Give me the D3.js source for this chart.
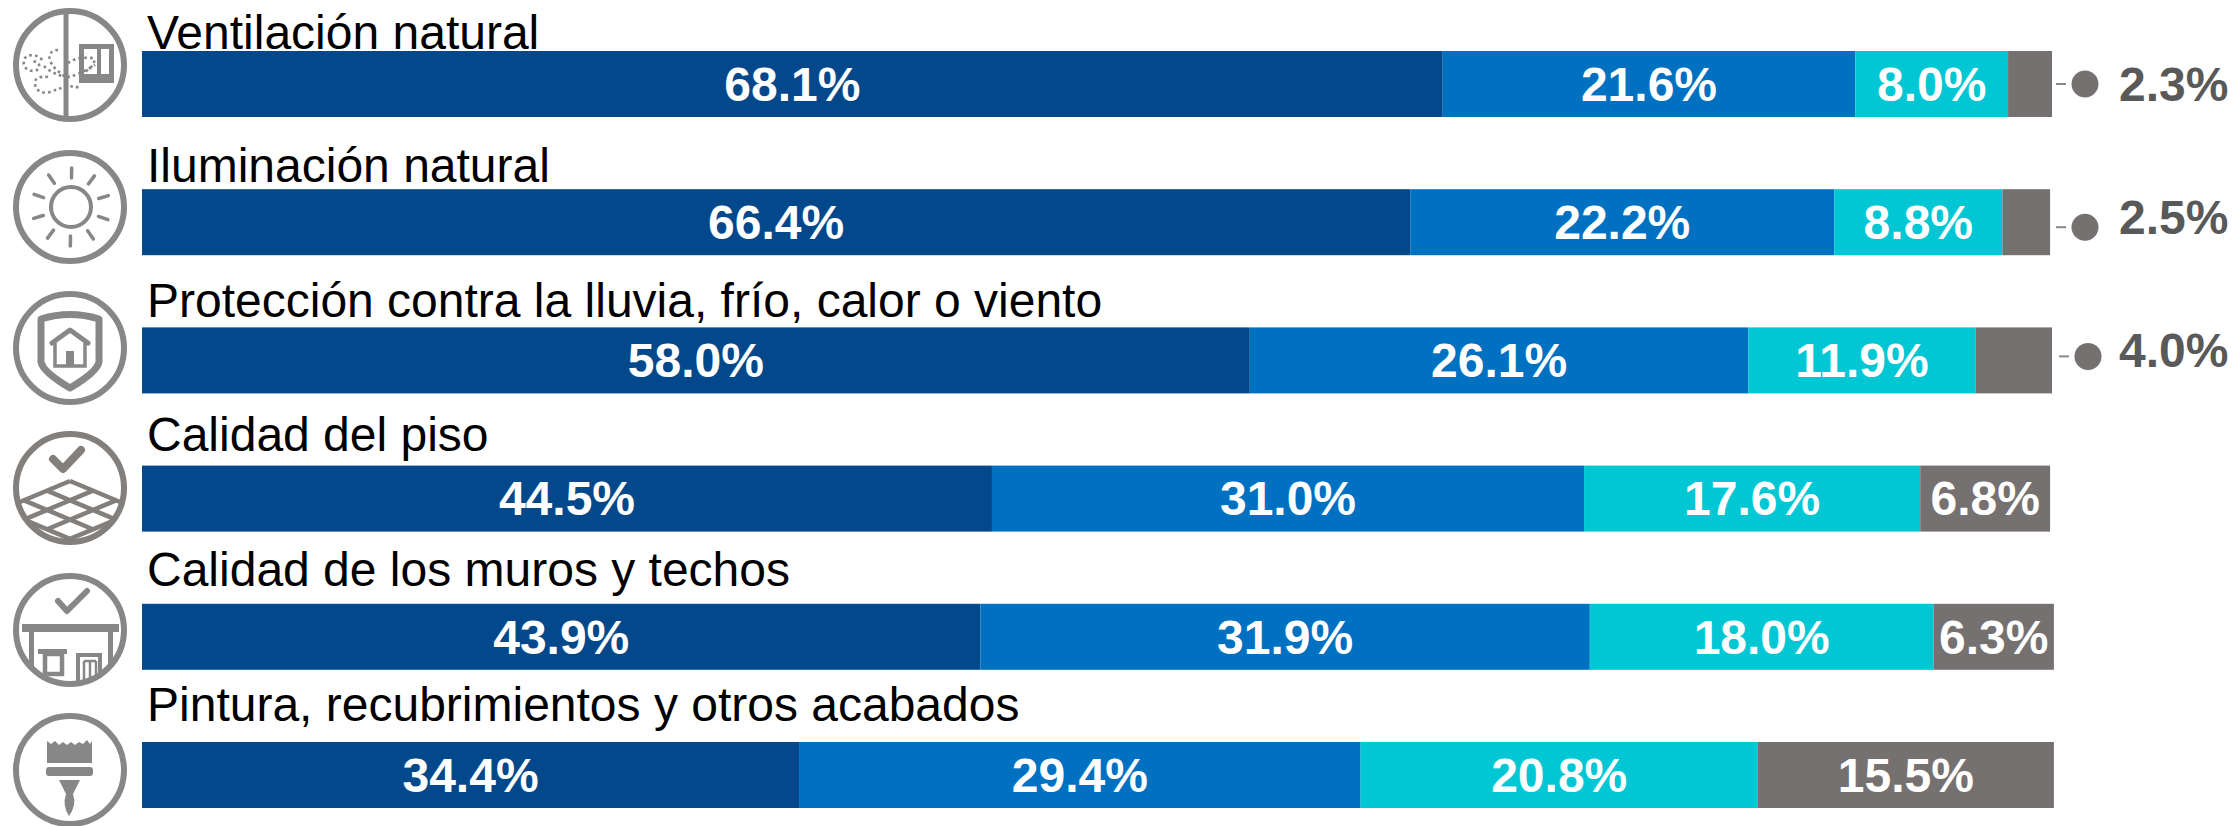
<!DOCTYPE html>
<html>
<head>
<meta charset="utf-8">
<script src="https://cdn.jsdelivr.net/npm/d3@7"></script>
<style>
  html, body { margin: 0; padding: 0; background: #fff; overflow: hidden; }
  text { font-family: "Liberation Sans", Arial, sans-serif; }
</style>
</head>
<body>
<div id="chart"></div>
<script>
// data
var categories = [
    "Ventilación natural",
    "Iluminación natural",
    "Protección contra la lluvia, frío, calor o viento",
    "Calidad del piso",
    "Calidad de los muros y techos",
    "Pintura, recubrimientos y otros acabados"
];
var seriesA = [68.1, 66.4, 58.0, 44.5, 43.9, 34.4];
var seriesB = [21.6, 22.2, 26.1, 31.0, 31.9, 29.4];
var seriesC = [8.0, 8.8, 11.9, 17.6, 18.0, 20.8];
var seriesD = [2.3, 2.5, 4.0, 6.8, 6.3, 15.5];
var seriesColors = ["#03488A", "#0070C0", "#00C7D3", "#767171"];

var width = 2233, height = 826;
var grey = "#878787";

var svg = d3.select("#chart").append("svg")
    .attr("width", width)
    .attr("height", height)
    .attr("viewBox", [0, 0, width, height])
    .style("display", "block");

var x = d3.scaleLinear().domain([0, 100]).range([142, 2052]);
var y = d3.scaleBand().domain(categories).range([51, 808]).paddingInner(0.5224);
var fmt = function (d) { return d.toFixed(1) + "%"; };

var allSeries = [seriesA, seriesB, seriesC, seriesD];

// distance of the title baseline above the bar, it drifts row by row in the original
var titleGap = [2, 7, 10, 15, 18, 21];

categories.forEach(function (cat, i) {
    var row = svg.append("g").attr("class", "row");
    var start = 0;
    allSeries.forEach(function (s, j) {
        var v = s[i];
        row.append("rect")
            .attr("x", x(start))
            .attr("y", y(cat))
            .attr("width", x(start + v) - x(start))
            .attr("height", y.bandwidth())
            .attr("fill", seriesColors[j]);
        // small grey segments get their label outside, with a dot
        if (v >= 5) {
            row.append("text")
                .attr("x", (x(start) + x(start + v)) / 2)
                .attr("y", y(cat) + y.bandwidth() / 2)
                .attr("dy", ".35em")
                .attr("text-anchor", "middle")
                .attr("font-size", "48px")
                .attr("font-weight", "bold")
                .attr("fill", "#fff")
                .text(fmt(v));
        }
        start += v;
    });
    row.append("text")
        .attr("x", 147)
        .attr("y", y(cat) - titleGap[i])
        .attr("font-size", "48px")
        .attr("fill", "#000")
        .text(cat);
});

// outside labels for the three thin segments
var calloutDy = [0, 5, -4];
var calloutTextDy = [17, 12, 7];
var calloutShift = [0, 0, 3];
seriesD.forEach(function (v, i) {
    if (v >= 5) return;
    var cy = y(categories[i]) + y.bandwidth() / 2 + calloutDy[i];
    var s = calloutShift[i];
    svg.append("line")
        .attr("x1", 2056 + s).attr("x2", 2066 + s)
        .attr("y1", cy).attr("y2", cy)
        .attr("stroke", "#8a8685").attr("stroke-width", 2);
    svg.append("circle")
        .attr("cx", 2085 + s).attr("cy", cy).attr("r", 13.5)
        .attr("fill", seriesColors[3]);
    svg.append("text")
        .attr("x", 2119)
        .attr("y", y(categories[i]) + y.bandwidth() / 2 + calloutTextDy[i])
        .attr("font-size", "48px")
        .attr("font-weight", "bold")
        .attr("fill", "#595959")
        .text(fmt(v));
});

// icons on the left
function ring(cy, color) {
    var g = svg.append("g").attr("class", "icon");
    g.append("circle")
        .attr("cx", 70).attr("cy", cy).attr("r", 54)
        .attr("fill", "none")
        .attr("stroke", color || grey)
        .attr("stroke-width", 6);
    return g;
}
function clipTo(id, cy) {
    svg.append("clipPath").attr("id", id)
        .append("circle").attr("cx", 70).attr("cy", cy).attr("r", 54);
}

// ventilation
var ic1 = ring(65);
ic1.append("line").attr("x1", 66).attr("x2", 66).attr("y1", 10).attr("y2", 118)
    .attr("stroke", grey).attr("stroke-width", 5);
ic1.append("rect").attr("x", 79).attr("y", 44).attr("width", 35).attr("height", 39).attr("fill", grey);
ic1.append("rect").attr("x", 84).attr("y", 49).attr("width", 13).attr("height", 25).attr("fill", "#fff");
ic1.append("rect").attr("x", 101).attr("y", 49).attr("width", 8).attr("height", 25).attr("fill", "#fff");
[
    "M42 60 C38 54 26 53 24 60 C22 68 30 73 37 70 C42 67 38 60 33 62",
    "M58 50 C52 50 48 54 50 60 C52 68 60 72 65 77 C70 78 84 72 95 65",
    "M68 63 C72 60 78 57 93 58 C96 60 94 66 85 72",
    "M48 77 C40 76 34 78 35 84 C36 92 44 94 50 92 C56 90 60 88 65 87 C70 86 74 86 80 88",
    "M44 66 C50 72 56 74 62 76"
].forEach(function (d) {
    ic1.append("path").attr("d", d)
        .attr("fill", "none")
        .attr("stroke", grey)
        .attr("stroke-width", 2.6)
        .attr("stroke-dasharray", "2.6 3.2");
});

// sun
var ic2 = ring(207);
ic2.append("circle").attr("cx", 71).attr("cy", 207).attr("r", 20)
    .attr("fill", "none").attr("stroke", grey).attr("stroke-width", 4);
d3.range(10).forEach(function (k) {
    var a = (k * 36 + 1) * Math.PI / 180;
    ic2.append("line")
        .attr("x1", 71 + 29 * Math.sin(a)).attr("y1", 207 - 29 * Math.cos(a))
        .attr("x2", 71 + 39 * Math.sin(a)).attr("y2", 207 - 39 * Math.cos(a))
        .attr("stroke", grey).attr("stroke-width", 3.5).attr("stroke-linecap", "round");
});

// shield with house
var ic3 = ring(348);
ic3.append("path")
    .attr("d", "M41 319 Q70 310 99 319 L99 362 Q97 372 70 388 Q43 372 41 362 Z")
    .attr("fill", "#fff").attr("stroke", grey).attr("stroke-width", 7).attr("stroke-linejoin", "round");
ic3.append("path").attr("d", "M52 343 L70 330 L88 343")
    .attr("fill", "none").attr("stroke", grey).attr("stroke-width", 5)
    .attr("stroke-linecap", "round").attr("stroke-linejoin", "round");
ic3.append("path").attr("d", "M55 343 L55 366 L85 366 L85 343")
    .attr("fill", "none").attr("stroke", grey).attr("stroke-width", 3.5);
ic3.append("rect").attr("x", 66).attr("y", 351).attr("width", 8).attr("height", 15).attr("fill", grey);

// floor
var floorGrey = "#827F7C";
clipTo("clipFloor", 488);
var ic4 = ring(488, floorGrey);
ic4.append("path").attr("d", "M53 459 L63 469 L81 450")
    .attr("fill", "none").attr("stroke", floorGrey).attr("stroke-width", 8)
    .attr("stroke-linecap", "round").attr("stroke-linejoin", "round");
var floorG = ic4.append("g").attr("clip-path", "url(#clipFloor)");
d3.range(5).forEach(function (k) {
    var dx = k * 23;
    floorG.append("line")
        .attr("x1", 70 - dx).attr("y1", 481 + 0.42 * dx)
        .attr("x2", 140 - dx).attr("y2", 481 + 0.42 * dx + 29.4)
        .attr("stroke", floorGrey).attr("stroke-width", 4.5);
    floorG.append("line")
        .attr("x1", 70 + dx).attr("y1", 481 + 0.42 * dx)
        .attr("x2", dx).attr("y2", 481 + 0.42 * dx + 29.4)
        .attr("stroke", floorGrey).attr("stroke-width", 4.5);
});

// walls and roof
clipTo("clipWall", 630);
var ic5 = ring(630);
ic5.append("path").attr("d", "M58 601 L67 611 L87 591")
    .attr("fill", "none").attr("stroke", grey).attr("stroke-width", 6)
    .attr("stroke-linecap", "round").attr("stroke-linejoin", "round");
ic5.append("rect").attr("x", 22).attr("y", 624).attr("width", 97).attr("height", 8).attr("fill", grey);
var wallG = ic5.append("g").attr("clip-path", "url(#clipWall)");
wallG.append("rect").attr("x", 29).attr("y", 632).attr("width", 5).attr("height", 50).attr("fill", grey);
wallG.append("rect").attr("x", 108).attr("y", 632).attr("width", 5).attr("height", 50).attr("fill", grey);
wallG.append("rect").attr("x", 38).attr("y", 649).attr("width", 29).attr("height", 5).attr("fill", grey);
wallG.append("rect").attr("x", 45).attr("y", 654).attr("width", 17).attr("height", 20)
    .attr("fill", "none").attr("stroke", grey).attr("stroke-width", 4.5);
wallG.append("rect").attr("x", 78).attr("y", 655).attr("width", 22).attr("height", 30)
    .attr("fill", "none").attr("stroke", grey).attr("stroke-width", 4);
wallG.append("path").attr("d", "M84 661 L84 685 M90 661 L90 685 M96 661 L96 685 M84 661 L96 661")
    .attr("fill", "none").attr("stroke", grey).attr("stroke-width", 2.5);

// paint brush
var ic6 = ring(770);
ic6.append("path")
    .attr("d", "M47 763 L47 741 L51 744 L55 741 L59 745 L63 742 L67 745 L71 742 L75 745 L79 742 L83 744 L87 740 L90 744 L92 741 L92 763 Z")
    .attr("fill", grey);
ic6.append("rect").attr("x", 46).attr("y", 767).attr("width", 47).attr("height", 9).attr("rx", 3).attr("fill", grey);
ic6.append("path")
    .attr("d", "M59 780 L80 780 L73 794 Q77 805 69 816 Q62 805 66 794 Z")
    .attr("fill", grey);
</script>
</body>
</html>
